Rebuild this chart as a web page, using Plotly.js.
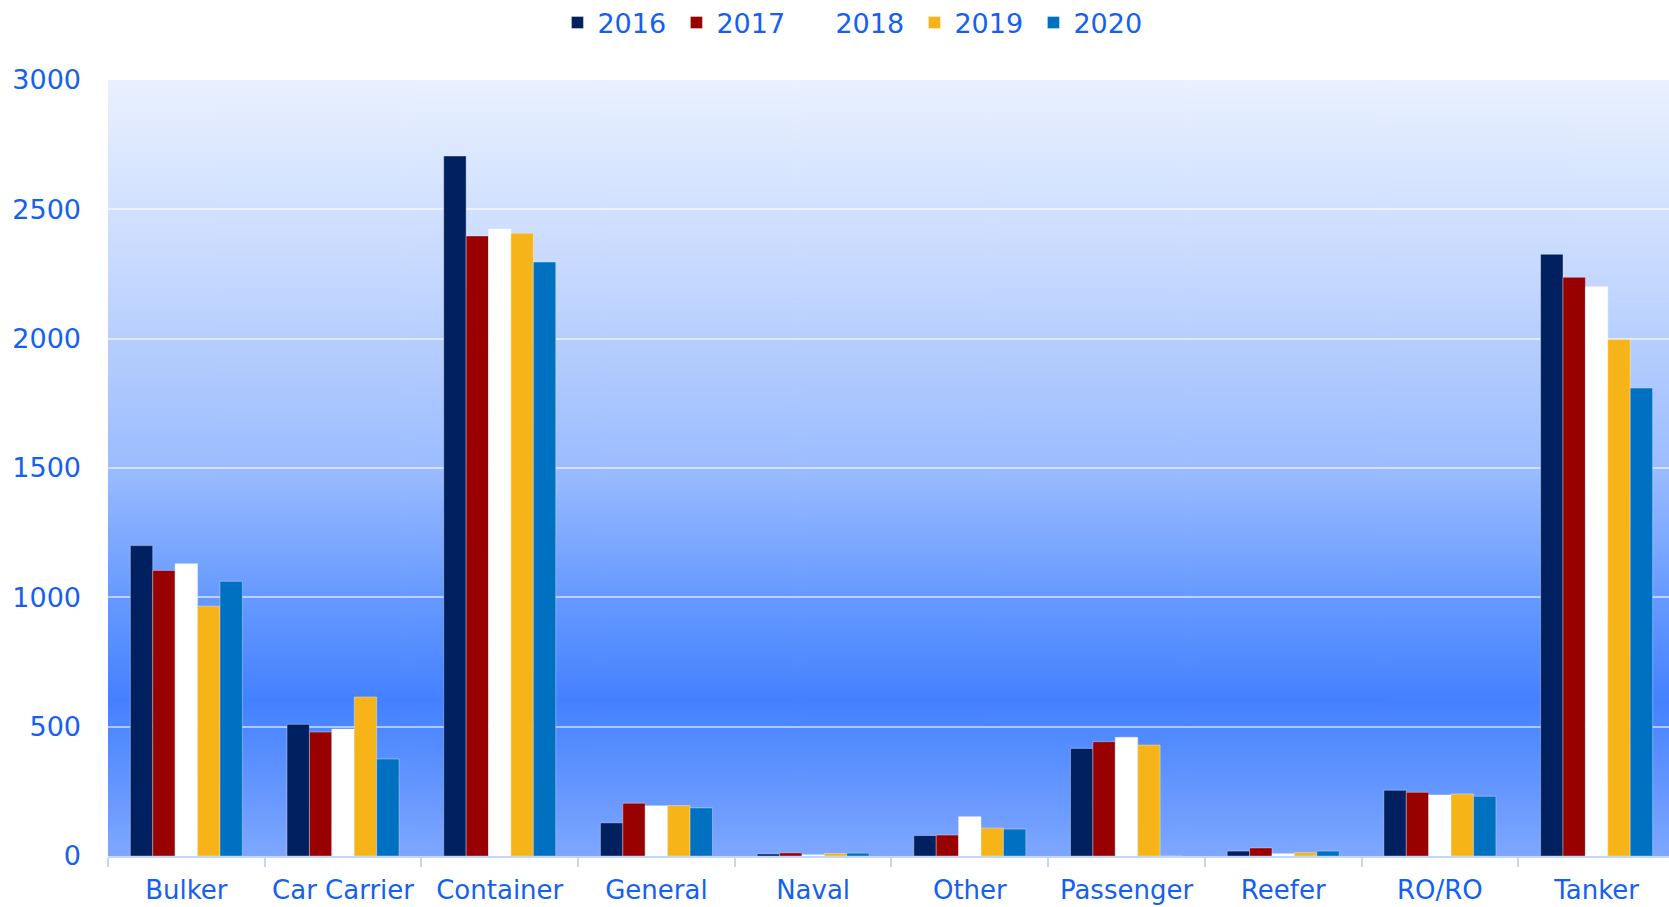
<!DOCTYPE html>
<html>
<head>
<meta charset="utf-8">
<script src="https://cdn.plot.ly/plotly-3.0.1.min.js"></script>
<style>
  html, body { margin: 0; padding: 0; background: #ffffff; }
  #chart { width: 1669px; height: 907px; }
</style>
</head>
<body>
<div id="chart"></div>
<script>
// ---- Data ----
const categories = ["Bulker", "Car Carrier", "Container", "General", "Naval", "Other", "Passenger", "Reefer", "RO/RO", "Tanker"];
const years = ["2016", "2017", "2018", "2019", "2020"];
const values2016 = [1200, 509, 2706, 128, 8, 79, 416, 19, 254, 2326];
const values2017 = [1104, 479, 2397, 204, 12, 81, 442, 31, 246, 2237];
const values2018 = [1130, 491, 2424, 194, 5, 152, 459, 9, 236, 2201];
const values2019 = [966, 615, 2408, 195, 10, 108, 429, 13, 240, 1997];
const values2020 = [1062, 375, 2296, 186, 11, 104, 2, 19, 231, 1809];
const yTicks = [0, 500, 1000, 1500, 2000, 2500, 3000];

const seriesValues = [values2016, values2017, values2018, values2019, values2020];
const seriesColors = ["#002060", "#990000", "#FFFFFF", "#F6B418", "#0070C0"];

// ---- Gradient background image for plot area ----
function gradientImage() {
  const c = document.createElement("canvas");
  c.width = 8; c.height = 776;
  const ctx = c.getContext("2d");
  const g = ctx.createLinearGradient(0, 0, 0, c.height);
  g.addColorStop(0.00, "#E9F1FE");
  g.addColorStop(0.25, "#C5D8FE");
  g.addColorStop(0.50, "#9BBCFF");
  g.addColorStop(0.66, "#689BFF");
  g.addColorStop(0.80, "#4481FF");
  g.addColorStop(1.00, "#7EA7FF");
  ctx.fillStyle = g;
  ctx.fillRect(0, 0, c.width, c.height);
  return c.toDataURL("image/png");
}

const textColor = "#1560F0";
const fontFamily = "DejaVu Sans, sans-serif";

const traces = years.map((yr, i) => ({
  type: "bar",
  name: yr,
  x: categories,
  y: seriesValues[i],
  marker: { color: seriesColors[i], line: { color: "rgba(255,255,255,0.35)", width: 1 } },
  hoverinfo: "x+y+name"
}));

const layout = {
  width: 1669,
  height: 907,
  margin: { l: 108, r: 0, t: 80, b: 51, pad: 0, autoexpand: false },
  paper_bgcolor: "#FFFFFF",
  plot_bgcolor: "rgba(0,0,0,0)",
  barmode: "group",
  bargap: 0.285,
  bargroupgap: 0,
  font: { family: fontFamily, size: 27, color: textColor },
  showlegend: true,
  legend: {
    orientation: "h",
    x: 0.4785, xanchor: "center",
    y: 1.0735, yanchor: "middle",
    font: { family: fontFamily, size: 27, color: textColor },
    bgcolor: "rgba(0,0,0,0)",
    entrywidth: 74,
    entrywidthmode: "pixels",
    traceorder: "normal"
  },
  xaxis: {
    type: "category",
    range: [-0.5, 9.462],
    showgrid: false,
    zeroline: false,
    showline: true,
    linecolor: "#C5D7F7",
    linewidth: 2,
    ticks: "outside",
    tickson: "boundaries",
    ticklen: 9,
    tickwidth: 2,
    tickcolor: "#C5D7F7",
    tickangle: 0,
    ticklabelstandoff: 10,
    tickfont: { family: fontFamily, size: 26, color: textColor },
    fixedrange: true
  },
  yaxis: {
    range: [0, 3000],
    tickvals: yTicks,
    ticktext: yTicks.map(String),
    showgrid: true,
    gridcolor: "rgba(255,255,255,0.55)",
    gridwidth: 2,
    zeroline: false,
    showline: false,
    ticks: "",
    ticklabelstandoff: 26,
    tickfont: { family: fontFamily, size: 27, color: textColor },
    fixedrange: true
  },
  images: [{
    source: gradientImage(),
    xref: "paper", yref: "paper",
    x: 0, y: 1, sizex: 1, sizey: 1,
    xanchor: "left", yanchor: "top",
    sizing: "stretch",
    layer: "below"
  }]
};

Plotly.newPlot("chart", traces, layout, { displayModeBar: false, responsive: false });
</script>
</body>
</html>
